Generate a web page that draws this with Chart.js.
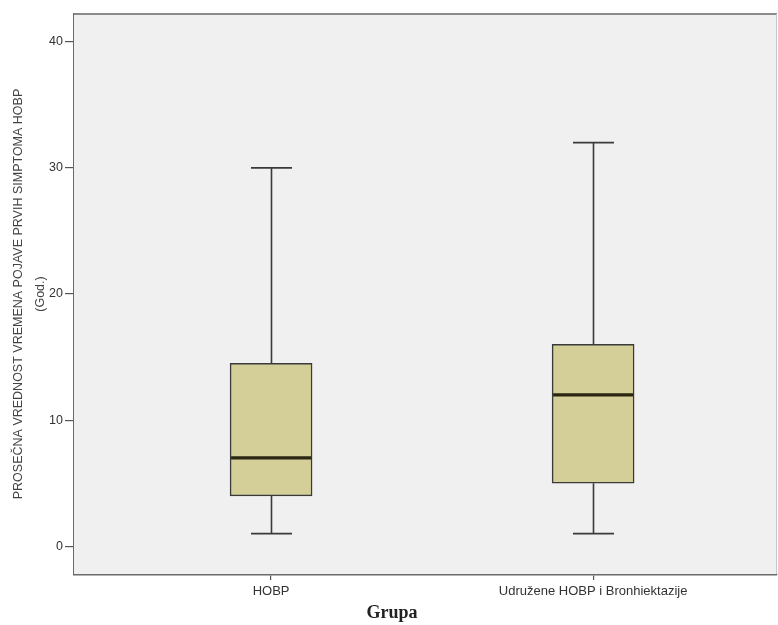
<!DOCTYPE html>
<html>
<head>
<meta charset="utf-8">
<script src="https://cdn.jsdelivr.net/npm/chart.js@4/dist/chart.umd.min.js"></script>
<style>
  html, body { margin: 0; padding: 0; background: #ffffff; }
  #wrap { width: 778px; height: 625px; }
</style>
</head>
<body>
<div id="wrap"><canvas id="c" width="778" height="625"></canvas></div>
<script>
// Box-plot summary per group (years)
const groups = ['HOBP', 'Udružene HOBP i Bronhiektazije'];
const groupPos = [1, 2];
const whiskerLow = [1, 1];
const quartile1 = [4, 5];
const medians = [7, 12];
const quartile3 = [14.5, 16];
const whiskerHigh = [30, 32];
const yTicks = [0, 10, 20, 30, 40];

const yTitle = ['PROSEČNA VREDNOST VREMENA POJAVE PRVIH SIMPTOMA HOBP', '(God.)'];
const xTitle = 'Grupa';

const boxData = groupPos.map((x, i) => ({ x: x, y: [quartile1[i], quartile3[i]] }));

// Frame, whiskers, medians and the bottom axis title
const boxPlotPlugin = {
  id: 'boxPlot',
  beforeDatasetsDraw(chart) {
    const { ctx, chartArea: a, scales } = chart;
    ctx.save();
    ctx.fillStyle = '#f0f0f0';
    ctx.fillRect(a.left, a.top, a.right - a.left, a.bottom - a.top);
    ctx.strokeStyle = '#8a8a8a';
    ctx.lineWidth = 2;
    ctx.beginPath();
    ctx.moveTo(a.left, a.top);
    ctx.lineTo(a.right, a.top);
    ctx.stroke();
    ctx.lineWidth = 1;
    ctx.strokeStyle = '#c8c8c8';
    ctx.beginPath();
    ctx.moveTo(a.right - 0.5, a.top);
    ctx.lineTo(a.right - 0.5, a.bottom);
    ctx.stroke();

    // whiskers and caps
    const xs = scales.x, ys = scales.y;
    const capHalf = 20.5;
    ctx.strokeStyle = '#3a3a3a';
    ctx.lineWidth = 1.6;
    groupPos.forEach((g, i) => {
      const px = Math.round(xs.getPixelForValue(g)) + 0.5;
      const lo = ys.getPixelForValue(whiskerLow[i]);
      const hi = ys.getPixelForValue(whiskerHigh[i]);
      const b = ys.getPixelForValue(quartile1[i]);
      const t = ys.getPixelForValue(quartile3[i]);
      ctx.beginPath();
      ctx.moveTo(px, b); ctx.lineTo(px, lo);
      ctx.moveTo(px, t); ctx.lineTo(px, hi);
      ctx.moveTo(px - capHalf, lo); ctx.lineTo(px + capHalf, lo);
      ctx.moveTo(px - capHalf, hi); ctx.lineTo(px + capHalf, hi);
      ctx.stroke();
    });
    ctx.restore();
  },
  afterDatasetsDraw(chart) {
    const { ctx, scales } = chart;
    const xs = scales.x, ys = scales.y;
    const meta = chart.getDatasetMeta(0);
    ctx.save();
    ctx.strokeStyle = '#2a2612';
    ctx.lineWidth = 3.2;
    groupPos.forEach((g, i) => {
      const bar = meta.data[i];
      const half = bar.width / 2 - 1;
      const px = xs.getPixelForValue(g);
      const py = ys.getPixelForValue(medians[i]);
      ctx.beginPath();
      ctx.moveTo(px - half, py); ctx.lineTo(px + half, py);
      ctx.stroke();
    });
    ctx.restore();
  },
  afterDraw(chart) {
    const { ctx } = chart;
    ctx.save();
    ctx.fillStyle = '#222222';
    ctx.font = 'bold 18px "Liberation Serif", "DejaVu Serif", serif';
    ctx.textAlign = 'center';
    ctx.textBaseline = 'middle';
    ctx.fillText(xTitle, 392, 613);
    ctx.restore();
  }
};

new Chart(document.getElementById('c'), {
  type: 'bar',
  data: {
    datasets: [{
      data: boxData,
      backgroundColor: '#d4cf98',
      borderColor: '#3a3a3a',
      borderWidth: 1.5,
      borderSkipped: false,
      barThickness: 82
    }]
  },
  options: {
    responsive: false,
    animation: false,
    events: [],
    layout: { padding: { top: 14, right: 1, left: 0, bottom: 0 } },
    plugins: { legend: { display: false }, tooltip: { enabled: false } },
    scales: {
      x: {
        type: 'linear',
        offset: false,
        min: 0.388,
        max: 2.571,
        afterFit(s) { s.height = 51; },
        afterBuildTicks(s) { s.ticks = groupPos.map(v => ({ value: v })); },
        grid: { offset: false, drawOnChartArea: false, drawTicks: true, tickLength: 6, color: '#555555', lineWidth: 1.2 },
        border: { display: true, color: '#6a6a6a', width: 2.5 },
        ticks: {
          autoSkip: false,
          maxRotation: 0,
          padding: 4,
          color: '#333333',
          font: { family: '"Liberation Sans", Arial, sans-serif', size: 13 },
          callback(v) { const i = groupPos.indexOf(v); return i >= 0 ? groups[i] : ''; }
        }
      },
      y: {
        type: 'linear',
        min: -2.2,
        max: 42.2,
        afterFit(s) { s.width = 74; },
        afterBuildTicks(s) { s.ticks = yTicks.map(v => ({ value: v })); },
        grid: { drawOnChartArea: false, drawTicks: true, tickLength: 9, color: '#555555', lineWidth: 1.2 },
        border: { display: true, color: '#6a6a6a', width: 2 },
        ticks: {
          padding: 2,
          color: '#333333',
          font: { family: '"Liberation Sans", Arial, sans-serif', size: 12.5 }
        },
        title: {
          display: true,
          text: yTitle,
          color: '#444444',
          padding: { top: 7.5, bottom: 0 },
          font: { family: '"Liberation Sans", Arial, sans-serif', size: 12.5, lineHeight: 1.76 }
        }
      }
    }
  },
  plugins: [boxPlotPlugin]
});
</script>
</body>
</html>
